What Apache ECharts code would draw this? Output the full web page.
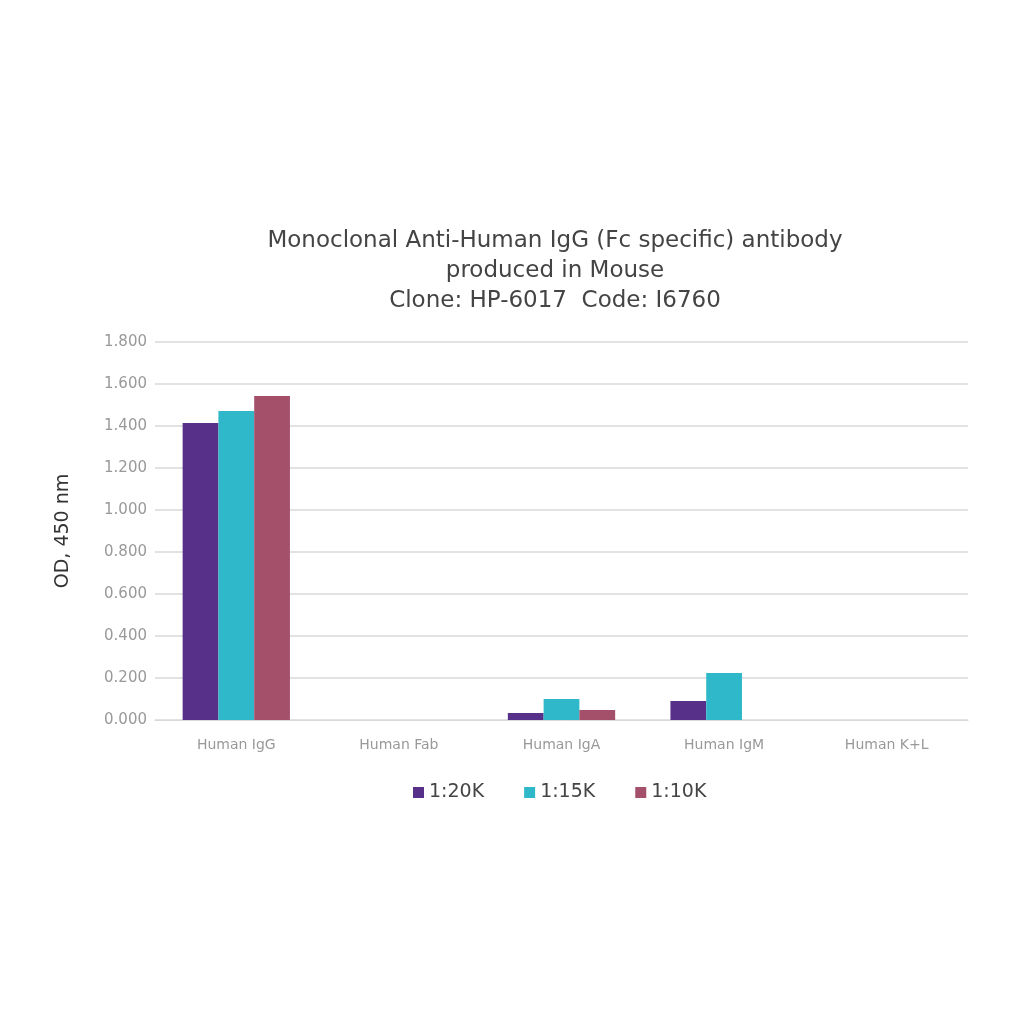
<!DOCTYPE html>
<html>
<head>
<meta charset="utf-8">
<script src="https://cdn.jsdelivr.net/npm/echarts@6/dist/echarts.min.js"></script>
<style>
  html, body { margin: 0; padding: 0; background: #fff; }
  #chart { width: 1024px; height: 1024px; }
</style>
</head>
<body>
<div id="chart"></div>
<script>
const categories = ['Human IgG', 'Human Fab', 'Human IgA', 'Human IgM', 'Human K+L'];
const seriesNames = ['1:20K', '1:15K', '1:10K'];
const dil20k = [1.414, 0, 0.033, 0.09, 0];
const dil15k = [1.472, 0, 0.10, 0.224, 0];
const dil10k = [1.543, 0, 0.048, 0, 0];
const colors = ['#57308a', '#2fb8c9', '#a4506b'];

const chart = echarts.init(document.getElementById('chart'));
const values = [dil20k, dil15k, dil10k];

chart.setOption({
  animation: false,
  title: {
    text: 'Monoclonal Anti-Human IgG (Fc specific) antibody\nproduced in Mouse\nClone: HP-6017  Code: I6760',
    left: 550,
    textAlign: 'center',
    top: 221,
    textStyle: {
      fontFamily: 'DejaVu Sans',
      fontWeight: 'normal',
      fontSize: 23,
      lineHeight: 30,
      color: '#444'
    }
  },
  legend: {
    data: seriesNames,
    top: 778,
    left: 408,
    itemWidth: 11,
    itemHeight: 11,
    itemGap: 40,
    icon: 'rect',
    textStyle: { fontFamily: 'DejaVu Sans', fontSize: 19, color: '#444' }
  },
  grid: { left: 155, right: 56, top: 342, bottom: 304 },
  xAxis: {
    type: 'category',
    data: categories,
    axisTick: { show: false },
    axisLine: { lineStyle: { color: '#d9d9d9' } },
    axisLabel: { fontFamily: 'DejaVu Sans', fontSize: 14, color: '#999', margin: 18 }
  },
  yAxis: {
    type: 'value',
    min: 0,
    max: 1.8,
    interval: 0.2,
    name: 'OD, 450 nm',
    nameLocation: 'middle',
    nameGap: 82,
    nameTextStyle: { fontFamily: 'DejaVu Sans', fontSize: 19, color: '#333' },
    axisLine: { show: false },
    axisTick: { show: false },
    splitLine: { lineStyle: { color: '#d9d9d9', width: 1.5 } },
    axisLabel: {
      fontFamily: 'DejaVu Sans',
      fontSize: 15,
      color: '#999',
      margin: 8,
      formatter: v => v.toFixed(3)
    }
  },
  series: seriesNames.map((name, i) => ({
    name,
    type: 'bar',
    data: values[i],
    barGap: '0%',
    barCategoryGap: '34%',
    itemStyle: { color: colors[i] }
  }))
});
</script>
</body>
</html>
